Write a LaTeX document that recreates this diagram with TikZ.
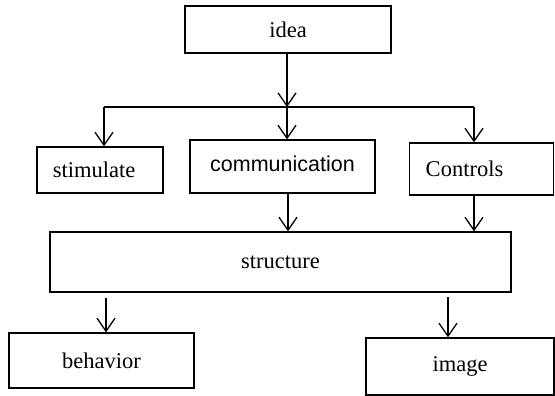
\documentclass[tikz,border=0pt]{standalone}
\usepackage{fontspec}
\setmainfont{Liberation Serif}
\newfontfamily\commfont{Liberation Sans}
\usetikzlibrary{arrows.meta}
\begin{document}
\begin{tikzpicture}[x=1pt,y=-1pt,
  box/.style={draw,line width=1.3pt,inner sep=0pt,font=\fontsize{22.5}{26}\selectfont},
  arr/.style={line width=1.3pt,-{Straight Barb[length=13pt,width=18pt,line width=1.3pt]}},
  ln/.style={line width=1.3pt}]
\useasboundingbox (0,0) rectangle (555,396);
\node[box,minimum width=206,minimum height=47] (idea) at (288,29.5) {idea};
\node[box,minimum width=126,minimum height=46] (stim) at (100,170) {\hspace{-12pt}stimulate};
\node[box,minimum width=185,minimum height=53,font=\commfont\fontsize{21.5}{25}\selectfont] (comm) at (282.5,166.5) {\raisebox{5pt}{communication}};
\node[box,minimum width=144,minimum height=52] (ctrl) at (481.5,169) {\hspace{-34pt}Controls};
\node[box,minimum width=461,minimum height=60] (struct) at (280.5,262) {structure};
\node[box,minimum width=185,minimum height=55] (behav) at (101.5,360.5) {behavior};
\node[box,minimum width=188,minimum height=57] (img) at (460,366.5) {image};
\coordinate (j) at (287,107);
\coordinate (hl) at (104,107);
\coordinate (hr) at (474,107);
\coordinate (b1) at (106,298);
\coordinate (i1) at (448,297);
\coordinate (c1) at (288,193);
\draw[arr] (idea.south -| j) -- (j);
\draw[ln] (hl) -- (hr);
\draw[arr] (hl) -- (hl |- stim.north);
\draw[arr] (j) -- (j |- comm.north);
\draw[arr] (hr) -- (hr |- ctrl.north);
\draw[arr] (c1) -- (c1 |- struct.north);
\draw[arr] (hr |- ctrl.south) -- (hr |- struct.north);
\draw[arr] (b1) -- (b1 |- behav.north);
\draw[arr] (i1) -- (i1 |- img.north);
\end{tikzpicture}
\end{document}
